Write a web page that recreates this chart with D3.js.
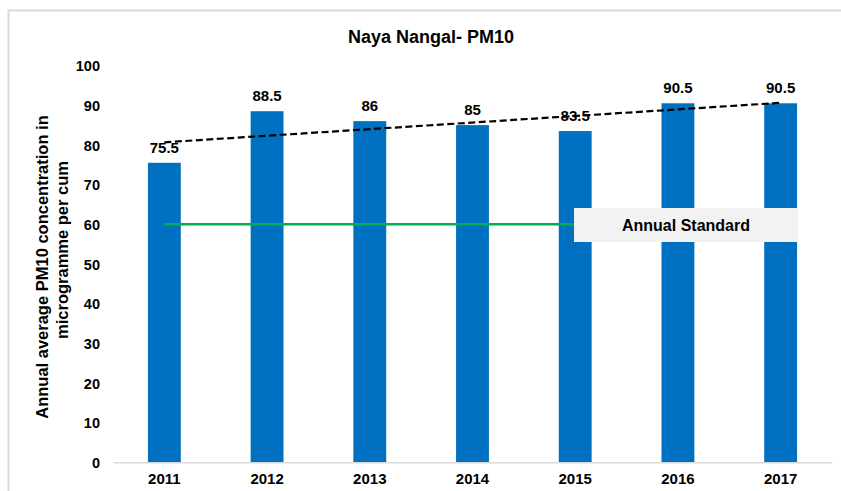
<!DOCTYPE html>
<html>
<head>
<meta charset="utf-8">
<script src="https://cdn.jsdelivr.net/npm/d3@7"></script>
<style>
  body { margin: 0; background: #fff; }
  text { font-family: "Liberation Sans", Arial, sans-serif; font-weight: bold; fill: #000; }
</style>
</head>
<body>
<div class="chart"></div>
<script>
const years = ["2011", "2012", "2013", "2014", "2015", "2016", "2017"];
const pm10 = [75.5, 88.5, 86, 85, 83.5, 90.5, 90.5];
const standard = 60;
const yTicks = [0, 10, 20, 30, 40, 50, 60, 70, 80, 90, 100];

const w = 841;
const h = 491;

const svg = d3.select(".chart")
    .append("svg")
    .attr("width", w)
    .attr("height", h);

// outer frame
svg.append("rect")
    .attr("x", 8.5)
    .attr("y", 10.5)
    .attr("width", 840)
    .attr("height", 490)
    .attr("fill", "none")
    .attr("stroke", "#d9d9d9")
    .attr("stroke-width", 2);

const x = d3.scaleBand()
    .domain(years)
    .range([113, 832])
    .paddingInner(0.68)
    .paddingOuter(0.34);

const y = d3.scaleLinear()
    .domain([0, 100])
    .range([462.3, 65.6]);

// bars
svg.selectAll("rect.bar")
    .data(pm10)
    .enter()
    .append("rect")
    .attr("class", "bar")
    .attr("x", (d, i) => x(years[i]))
    .attr("y", d => y(d))
    .attr("width", x.bandwidth())
    .attr("height", d => y(0) - y(d))
    .attr("fill", "#0070c0");

// x axis
const xAxis = svg.append("g")
    .attr("transform", "translate(0," + y(0) + ")")
    .call(d3.axisBottom(x).tickSize(0).tickPadding(11));
xAxis.select(".domain").attr("stroke", "#d9d9d9").attr("stroke-width", 1.5);
xAxis.selectAll("text")
    .style("font-size", "15px")
    .style("font-family", "'Liberation Sans', Arial, sans-serif")
    .style("font-weight", "bold");

// y axis (labels only)
const yAxis = svg.append("g")
    .attr("transform", "translate(100,0)")
    .call(d3.axisLeft(y).tickValues(yTicks).tickSize(0).tickPadding(0));
yAxis.select(".domain").remove();
yAxis.selectAll("text")
    .attr("dy", "0.35em")
    .style("font-size", "14.5px")
    .style("font-family", "'Liberation Sans', Arial, sans-serif")
    .style("font-weight", "bold");

// trend line (linear fit of the bar values)
const xi = pm10.map((d, i) => i);
const mx = d3.mean(xi);
const my = d3.mean(pm10);
const slope = d3.sum(xi, i => (i - mx) * (pm10[i] - my)) / d3.sum(xi, i => (i - mx) * (i - mx));
const fit = i => my + slope * (i - mx);
const cx = yr => x(yr) + x.bandwidth() / 2;

svg.append("line")
    .attr("x1", cx(years[0]))
    .attr("y1", y(fit(0)))
    .attr("x2", cx(years[years.length - 1]))
    .attr("y2", y(fit(years.length - 1)))
    .attr("stroke", "#000")
    .attr("stroke-width", 2.2)
    .attr("stroke-dasharray", "7,3.5");

// value labels
svg.selectAll("text.val")
    .data(pm10)
    .enter()
    .append("text")
    .attr("class", "val")
    .attr("x", (d, i) => cx(years[i]))
    .attr("y", d => y(d) - 10)
    .attr("text-anchor", "middle")
    .style("font-size", "15px")
    .text(d => d);

// annual standard line
svg.append("line")
    .attr("x1", cx(years[0]))
    .attr("y1", y(standard))
    .attr("x2", cx(years[years.length - 1]))
    .attr("y2", y(standard))
    .attr("stroke", "#00b050")
    .attr("stroke-width", 2.5);

svg.append("rect")
    .attr("x", 574)
    .attr("y", 208)
    .attr("width", 224)
    .attr("height", 34)
    .attr("fill", "#f2f2f2");
svg.append("text")
    .attr("x", 686)
    .attr("y", 231)
    .attr("text-anchor", "middle")
    .style("font-size", "16px")
    .text("Annual Standard");

// title
svg.append("text")
    .attr("x", 431)
    .attr("y", 43)
    .attr("text-anchor", "middle")
    .style("font-size", "18px")
    .text("Naya Nangal- PM10");

// y axis title
svg.append("text")
    .attr("text-anchor", "middle")
    .attr("transform", "translate(48,267) rotate(-90)")
    .style("font-size", "16.5px")
    .text("Annual average PM10 concentration in");
svg.append("text")
    .attr("text-anchor", "middle")
    .attr("transform", "translate(68,250) rotate(-90)")
    .style("font-size", "16.5px")
    .text("microgramme per cum");
</script>
</body>
</html>
